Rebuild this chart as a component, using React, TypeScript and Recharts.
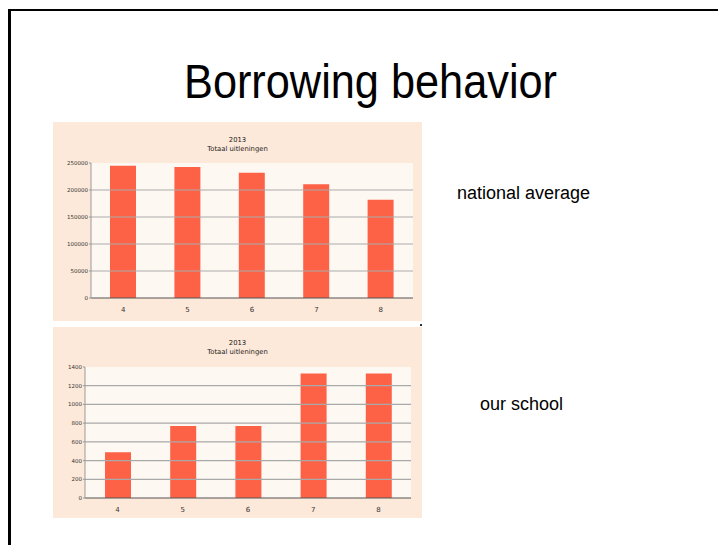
import { Bar, BarChart, CartesianGrid, ReferenceLine, XAxis, YAxis } from "recharts"

const categories = ["4", "5", "6", "7", "8"]
const nationalValues = [245000, 242500, 232000, 210500, 182000]
const schoolValues = [490, 770, 770, 1330, 1330]
const nationalTicks = [0, 50000, 100000, 150000, 200000, 250000]
const schoolTicks = [0, 200, 400, 600, 800, 1000, 1200, 1400]
const chartTitle = ["2013", "Totaal uitleningen"]

const BAR_COLOR = "#fe6246"
const PANEL_BG = "#fde9d9"
const PLOT_BG = "#fef8f3"
const CHART_FONT = "'DejaVu Sans', Verdana, sans-serif"

type PanelProps = {
  top: number
  values: number[]
  ticks: number[]
  height: number
  yAxisWidth: number
  margin: { top: number; right: number; bottom: number; left: number }
  xAxisHeight: number
  titleY: [number, number]
}

function Panel({ top, values, ticks, height, yAxisWidth, margin, xAxisHeight, titleY }: PanelProps) {
  const data = categories.map((c, i) => ({ cat: c, value: values[i] }))
  const max = ticks[ticks.length - 1]
  const width = 369
  return (
    <div style={{ position: "absolute", left: 53, top, width, height, background: PANEL_BG }}>
      <svg width={width} height={40} style={{ position: "absolute", left: 0, top: 0 }}>
        {chartTitle.map((t, i) => (
          <text
            key={t}
            x={width / 2}
            y={titleY[i]}
            textAnchor="middle"
            dominantBaseline="central"
            fontFamily={CHART_FONT}
            fontSize={6.8}
            fill="#222"
          >
            {t}
          </text>
        ))}
      </svg>
      <BarChart width={width} height={height} data={data} margin={margin} barSize={26}>
        <CartesianGrid fill={PLOT_BG} horizontal={false} vertical={false} />
        {ticks.slice(1, -1).map((t) => (
          <ReferenceLine key={t} y={t} stroke="#a9a9a9" strokeWidth={1.2} />
        ))}
        <XAxis
          dataKey="cat"
          height={xAxisHeight}
          tickLine={false}
          tickSize={6}
          tickMargin={3}
          axisLine={{ stroke: "#555", strokeWidth: 1.2 }}
          tick={{ fontSize: 7, fill: "#333", fontFamily: CHART_FONT }}
        />
        <YAxis
          type="number"
          domain={[0, max]}
          ticks={ticks}
          interval={0}
          width={yAxisWidth}
          axisLine={{ stroke: "#999" }}
          tickLine={{ stroke: "#999" }}
          tickSize={2}
          tickMargin={1}
          tick={{ fontSize: 5.5, fill: "#333", fontFamily: CHART_FONT }}
        />
        <Bar dataKey="value" fill={BAR_COLOR} isAnimationActive={false} />
      </BarChart>
    </div>
  )
}

export default function App() {
  return (
    <div
      style={{
        position: "absolute",
        left: 0,
        top: 0,
        width: 718,
        height: 545,
        overflow: "hidden",
        background: "#fff",
      }}
    >
      <div
        style={{
          position: "absolute",
          left: 8,
          top: 9,
          width: 800,
          height: 600,
          borderTop: "2px solid #000",
          borderLeft: "3px solid #000",
        }}
      />
      <svg width={718} height={545} style={{ position: "absolute", left: 0, top: 0 }}>
        <text
          x={184}
          y={98}
          fontFamily="'Liberation Sans', Arial, sans-serif"
          fontSize={49}
          textLength={373}
          lengthAdjust="spacingAndGlyphs"
          fill="#000"
        >
          Borrowing behavior
        </text>
        <text x={457} y={199} fontFamily="'Liberation Sans', Arial, sans-serif" fontSize={18} fill="#000">
          national average
        </text>
        <text x={480} y={410} fontFamily="'Liberation Sans', Arial, sans-serif" fontSize={18} fill="#000">
          our school
        </text>
      </svg>
      <Panel
        top={122}
        values={nationalValues}
        ticks={nationalTicks}
        height={199}
        yAxisWidth={38}
        margin={{ top: 41, right: 9, bottom: 0, left: 0 }}
        xAxisHeight={23}
        titleY={[18, 27]}
      />
      <Panel
        top={327}
        values={schoolValues}
        ticks={schoolTicks}
        height={191}
        yAxisWidth={32}
        margin={{ top: 40, right: 11, bottom: 0, left: 0 }}
        xAxisHeight={20}
        titleY={[15.7, 24.7]}
      />
      <div style={{ position: "absolute", left: 420, top: 324, width: 2, height: 2, background: "#333" }} />
    </div>
  )
}
